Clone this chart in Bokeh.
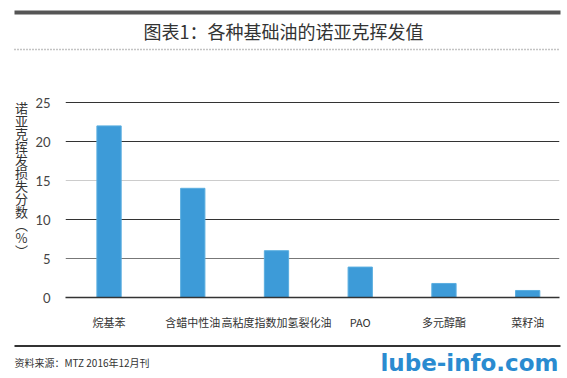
from bokeh.plotting import figure
from bokeh.layouts import column, row
from bokeh.models import ColumnDataSource, Range1d, FixedTicker, Grid
from bokeh.core.properties import value
from bokeh.embed import file_html
from bokeh.resources import INLINE

categories = ["烷基苯", "含蜡中性油", "高粘度指数加氢裂化油", "PAO", "多元醇酯", "菜籽油"]
values = [22, 14, 6, 3.9, 1.8, 0.9]
y_ticks = [0, 5, 10, 15, 20, 25]
title_text = "图表1：各种基础油的诺亚克挥发值"
y_label_text = "诺亚克挥发损失分数︵%︶"
source_text = "资料来源：MTZ 2016年12月刊"
watermark = "lube-info.com"

FONT = "Noto Sans CJK SC"
W = 567


def blank(width, height, y0, y1, **kw):
    f = figure(width=width, height=height, output_backend="svg", toolbar_location=None,
               x_range=Range1d(0, width), y_range=Range1d(y1, y0),
               x_axis_type=None, y_axis_type=None, **kw)
    f.outline_line_color = None
    f.grid.grid_line_color = None
    f.background_fill_color = "white"
    f.border_fill_color = "white"
    return f


# ---------- header ----------
H_HEAD = 55
head = blank(W, H_HEAD, 0, H_HEAD, min_border=0)
head.quad(left=[14], right=[560], top=[10], bottom=[14], fill_color="#555555", line_color=None)
head.text(x=[283], y=[30], text=[title_text], text_font=value(FONT), text_font_size="18px",
          text_color="#333333", text_align="center", text_baseline="middle")
head.segment(x0=[14], x1=[560], y0=[49], y1=[49], line_color="#888888", line_width=1.5,
             line_dash="1 2")

# ---------- main ----------
H_MAIN = 280
LEFT_W = 30
FRAME_TOP = 90      # page y of the main frame's top
FRAME_BOTTOM = 297  # page y of value 0
BORDER_TOP = FRAME_TOP - H_HEAD
BORDER_BOTTOM = H_HEAD + H_MAIN - FRAME_BOTTOM

side = blank(LEFT_W, H_MAIN, FRAME_TOP, FRAME_BOTTOM, min_border_left=0, min_border_right=0,
             min_border_top=BORDER_TOP, min_border_bottom=BORDER_BOTTOM)
chars = list(y_label_text)
step = 13.0
side.text(x=[21] * len(chars), y=[97 + i * step for i in range(len(chars))], text=chars,
          text_font=value(FONT), text_font_size="13px", text_color="#333333",
          text_align="center", text_baseline="top")

idx = list(range(len(categories)))
src = ColumnDataSource(dict(x=idx, top=values))

px_per_unit = (FRAME_BOTTOM - 102) / 25
y_top = 25 + (102 - FRAME_TOP) / px_per_unit

p = figure(width=W - LEFT_W, height=H_MAIN, output_backend="svg", toolbar_location=None,
           x_range=Range1d(-0.52, 5.38), y_range=Range1d(0, y_top),
           min_border_left=65 - LEFT_W, min_border_right=8, min_border_top=BORDER_TOP,
           min_border_bottom=BORDER_BOTTOM)
p.outline_line_color = None
p.background_fill_color = "white"
p.border_fill_color = "white"

p.vbar(x="x", top="top", width=0.29, source=src, fill_color="#3d9bd8",
       line_color="#5aaee0", line_width=1)

p.xaxis.ticker = FixedTicker(ticks=idx)
p.xaxis.major_label_overrides = {i: c for i, c in zip(idx, categories)}
p.xaxis.axis_line_color = "#333333"
p.xaxis.axis_line_width = 1.5
p.xaxis.major_tick_line_color = None
p.xaxis.minor_tick_line_color = None
p.xaxis.major_label_text_font = FONT
p.xaxis.major_label_text_font_size = "11px"
p.xaxis.major_label_text_color = "#333333"
p.xaxis.major_label_standoff = 10

p.yaxis.ticker = FixedTicker(ticks=y_ticks)
p.yaxis.axis_line_color = None
p.yaxis.major_tick_line_color = None
p.yaxis.minor_tick_line_color = None
p.yaxis.major_label_text_font = "Lato"
p.yaxis.major_label_text_font_size = "13px"
p.yaxis.major_label_text_color = "#444444"
p.yaxis.major_label_standoff = 9

p.xgrid.grid_line_color = None
p.ygrid.ticker = FixedTicker(ticks=[t for t in y_ticks if t in (0, 10, 20, 25)])
p.ygrid.grid_line_color = "#333333"
p.ygrid.grid_line_width = 1
p.add_layout(Grid(dimension=1, ticker=FixedTicker(ticks=[5]), grid_line_color="#777777",
                  grid_line_width=1))
p.add_layout(Grid(dimension=1, ticker=FixedTicker(ticks=[15]), grid_line_color="#cccccc",
                  grid_line_width=1))

# ---------- footer ----------
H_FOOT = 378 - H_HEAD - H_MAIN
foot = blank(W, H_FOOT, 0, H_FOOT, min_border=0)
foot.quad(left=[14], right=[560], top=[9.5], bottom=[11.5], fill_color="#333333", line_color=None)
foot.text(x=[14], y=[27], text=[source_text], text_font=value(FONT), text_font_size="10px",
          text_color="#333333", text_align="left", text_baseline="middle")
foot.text(x=[558], y=[27], text=[watermark], text_font=value("DejaVu Sans"),
          text_font_size="23px", text_font_style="bold", text_color="#2a8bd0",
          text_align="right", text_baseline="middle")

layout = column(head, row(side, p, spacing=0), foot, spacing=0)
open("out.html", "w").write(file_html(layout, INLINE))
